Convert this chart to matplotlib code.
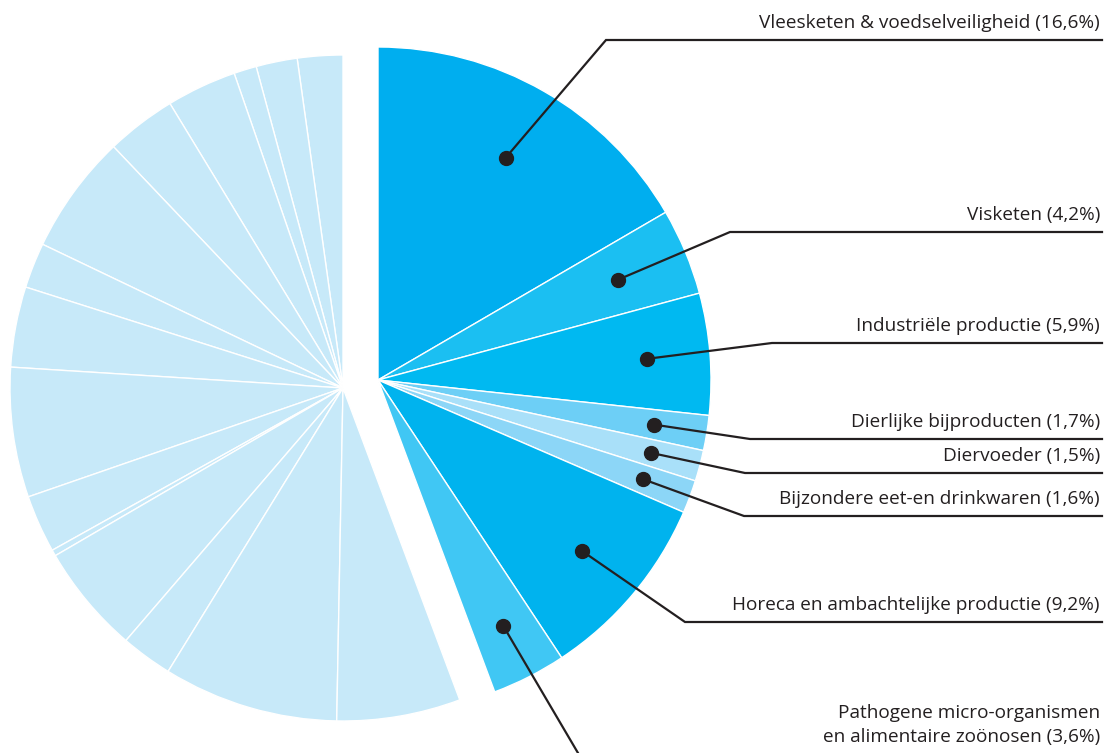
import matplotlib
matplotlib.use("Agg")
import matplotlib.pyplot as plt
import numpy as np

# highlighted categories (clockwise from 12 o'clock), percentages
labels = [
    "Vleesketen & voedselveiligheid (16,6%)",
    "Visketen (4,2%)",
    "Industriële productie (5,9%)",
    "Dierlijke bijproducten (1,7%)",
    "Diervoeder (1,5%)",
    "Bijzondere eet-en drinkwaren (1,6%)",
    "Horeca en ambachtelijke productie (9,2%)",
    "Pathogene micro-organismen\nen alimentaire zoönosen (3,6%)",
]
values = [16.6, 4.2, 5.9, 1.7, 1.5, 1.6, 9.2, 3.6]
colors = ["#00AEEF", "#1BBFF2", "#00B9F1", "#6DCFF6", "#A9E0F9",
          "#8CD6F7", "#00B3EE", "#40C7F4"]

# remaining (unlabelled) categories, counter-clockwise from 12 o'clock
other_values = [2.2, 2.0, 1.1, 3.4, 3.4, 5.8, 2.2, 3.9, 6.3, 2.8, 0.3,
                5.3, 2.5, 8.5, 6.0]
other_color = "#C7E9F9"

# label line heights (pixel rows) and dot distance from centre (fraction of radius)
label_y = [40, 232, 343, 439, 473, 516, 622, None]
elbow_x = [606, 730, 772, 750, 745, 744, 685, None]
dot_r = [0.77, 0.78, 0.81, 0.84, 0.85, 0.85, 0.80, 0.83]

W, H = 1107, 753
R = 333
c_main = (378, H - 380)
c_other = (343, H - 388)
ink = "#231F20"
fs = 13.7

plt.rcParams['font.family'] = ['Open Sans', 'DejaVu Sans']

fig = plt.figure(figsize=(W / 100, H / 100), dpi=100)
ax = fig.add_axes([0, 0, 1, 1])

wedges, _ = ax.pie([v / 100 for v in values], colors=colors, startangle=90,
                   counterclock=False, normalize=False, radius=R, center=c_main,
                   wedgeprops=dict(edgecolor='white', linewidth=1.0))
ax.pie([v / 100 for v in other_values], colors=[other_color] * len(other_values),
       startangle=90, counterclock=True, normalize=False, radius=R, center=c_other,
       wedgeprops=dict(edgecolor='white', linewidth=1.0))
ax.set_xlim(0, W)
ax.set_ylim(0, H)
ax.set_aspect('equal')
ax.axis('off')

x_end = 1102
for i, w in enumerate(wedges):
    mid = np.deg2rad((w.theta1 + w.theta2) / 2)
    dx = c_main[0] + dot_r[i] * R * np.cos(mid)
    dy = c_main[1] + dot_r[i] * R * np.sin(mid)
    ax.plot(dx, dy, 'o', ms=10, color=ink, zorder=5)
    if label_y[i] is not None:
        ly = H - label_y[i]
        ax.plot([dx, elbow_x[i], x_end], [dy, ly, ly], color=ink, lw=1.6,
                solid_joinstyle='miter', zorder=4)
        ax.text(x_end - 2, ly + 12, labels[i], ha='right', va='baseline',
                fontsize=fs, color=ink)
    else:
        # last label: line leaves the picture at the bottom
        ang = np.arctan2(H - 753 - dy, 578 - dx)
        ax.plot([dx, dx + 200 * np.cos(ang)], [dy, dy + 200 * np.sin(ang)],
                color=ink, lw=1.6, zorder=4)
        ax.text(x_end - 2, H - 742, labels[i], ha='right', va='baseline',
                fontsize=fs, color=ink, linespacing=1.45)

fig.savefig("out.png", dpi=100)
